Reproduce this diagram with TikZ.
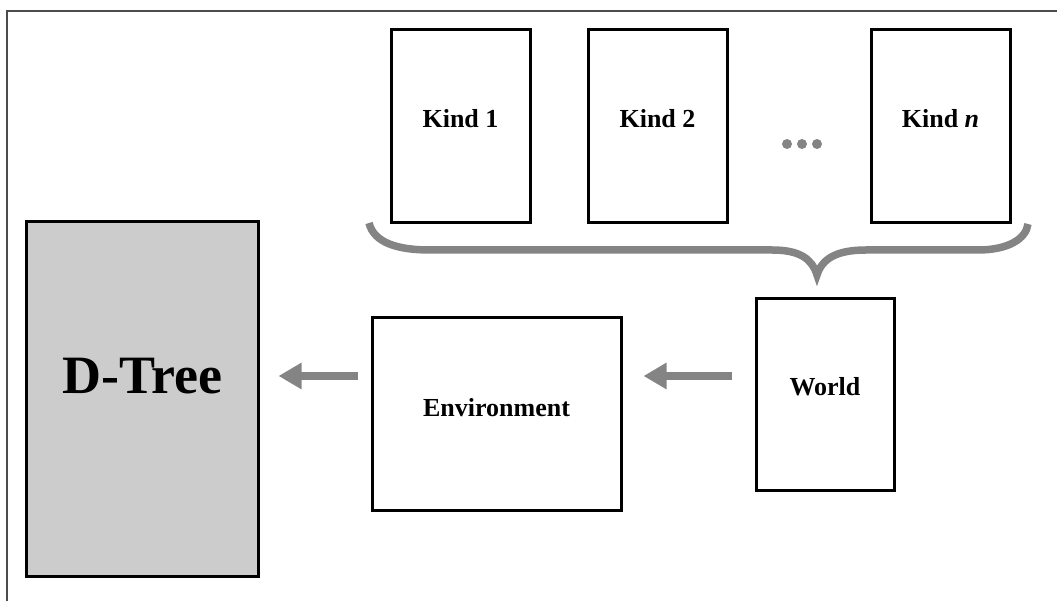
\documentclass[tikz,border=0pt]{standalone}
\usepackage{fontspec}
\setmainfont{Liberation Serif}
\usepackage{xcolor}
\usetikzlibrary{arrows.meta, positioning}
\definecolor{flowgray}{RGB}{132,132,132}
\definecolor{treegray}{RGB}{204,204,204}

\begin{document}
\begin{tikzpicture}[
  x=1pt, y=1pt,
  box/.style  = {rectangle, draw=black, line width=3pt, fill=#1,
                 minimum width=139pt, minimum height=193pt, inner sep=0pt},
  box/.default = white,
  txt/.style  = {font=\fontsize{26}{30}\selectfont\bfseries, yshift=#1},
  txt/.default = 8pt,
  flow/.style = {-{Triangle[length=23pt, width=25pt]}, line width=7.5pt, flowgray},
  brace/.style = {line width=7.5pt, flowgray},
]
\useasboundingbox (0,0) rectangle (1057,601);

% ── Frame ─────────────────────────────────────────────────────────────────────
\draw[line width=1.5pt, black!70] (7,0) -- (7,590) -- (1057,590);

% ── Kinds ─────────────────────────────────────────────────────────────────────
\node[box, label={[txt]center:Kind 1}] (kind1) at (460.5,474.5) {};
\node[box, label={[txt]center:Kind 2}] (kind2) at (657.5,474.5) {};
\node[box, label={[txt]center:Kind \textit{n}}] (kindn) at (940.5,474.5) {};

\foreach \dx in {787,802,817}
  \fill[flowgray] (\dx,457) circle (5pt);

% ── Brace under the kinds ─────────────────────────────────────────────────────
\draw[brace] (369,378) .. controls (374,358) and (398,351) .. (430,351)
  -- (772,351) .. controls (800,351) and (812,342) .. (817,326)
  .. controls (822,342) and (836,351) .. (866,351)
  -- (978,351) .. controls (1008,351) and (1026,362) .. (1028,377);

% ── Lower row ─────────────────────────────────────────────────────────────────
\node[box=treegray, minimum width=232pt, minimum height=355pt,
      label={[txt=23pt, font=\fontsize{54}{60}\selectfont\bfseries]center:D-Tree}]
  (dtree) at (142,201.5) {};

\node[box, minimum width=249pt, minimum height=193pt,
      label={[txt=6.5pt]center:Environment}] (env) at (496.5,186.5) {};

\node[box, minimum width=138pt, minimum height=192pt,
      label={[txt]center:World}] (world) at (825,206) {};

% ── Arrows ────────────────────────────────────────────────────────────────────
\coordinate (row) at (0,225);
\draw[flow, shorten <=13pt, shorten >=19pt] (env.west |- row) -- (dtree.east |- row);
\draw[flow, shorten <=23pt, shorten >=21pt] (world.west |- row) -- (env.east |- row);

\end{tikzpicture}
\end{document}
